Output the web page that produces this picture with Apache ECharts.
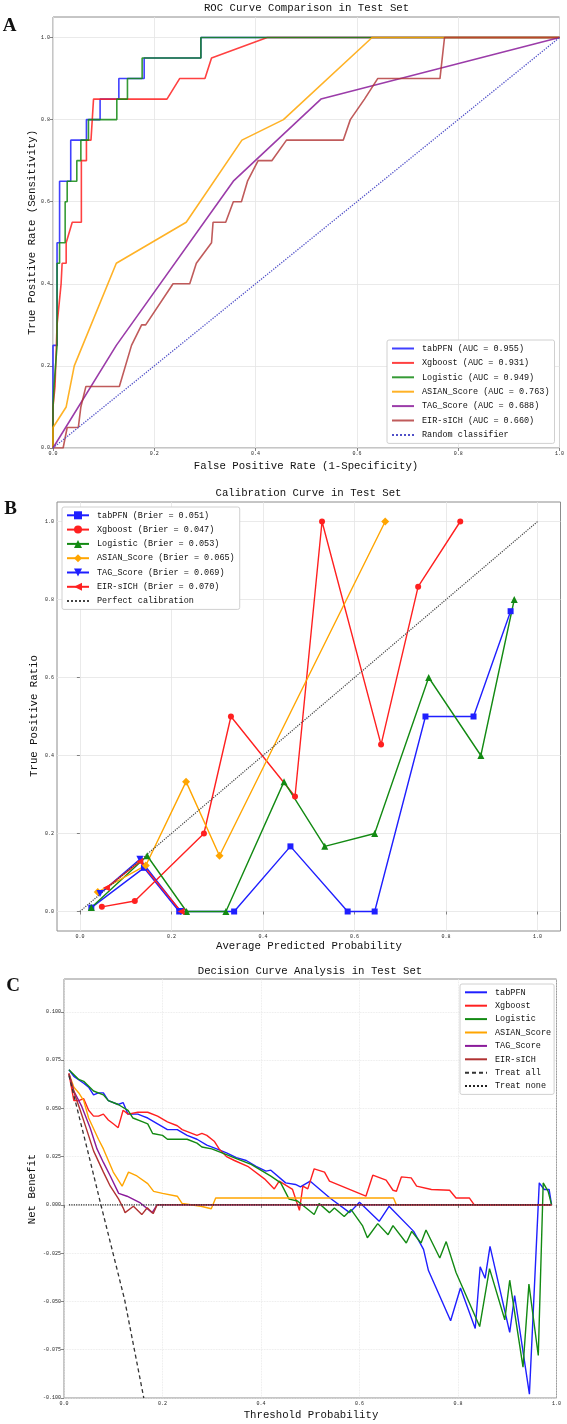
<!DOCTYPE html>
<html>
<head>
<meta charset="utf-8">
<title>Model comparison</title>
<script src="https://cdn.jsdelivr.net/npm/echarts@6.0.0/dist/echarts.min.js"></script>
<style>
  html, body { margin: 0; padding: 0; background: #fff; }
  #chart { width: 567px; height: 1424px; }
</style>
</head>
<body>
<div id="chart"></div>
<script>
// ---------- A: ROC curves (fpr / tpr) ----------
const rocTabpfnX = [0, 0, 0.008, 0.008, 0.013, 0.013, 0.035, 0.035, 0.066, 0.066, 0.093, 0.093, 0.13, 0.13, 0.18, 0.18, 0.292, 0.292, 1];
const rocTabpfnY = [0, 0.25, 0.25, 0.5, 0.5, 0.65, 0.65, 0.75, 0.75, 0.8, 0.8, 0.85, 0.85, 0.9, 0.9, 0.95, 0.95, 1, 1];
const rocXgbX = [0, 0, 0.004, 0.008, 0.016, 0.018, 0.026, 0.026, 0.038, 0.056, 0.056, 0.066, 0.066, 0.075, 0.08, 0.225, 0.25, 0.30, 0.313, 0.423, 1];
const rocXgbY = [0, 0.1, 0.15, 0.3, 0.4, 0.45, 0.45, 0.5, 0.55, 0.55, 0.7, 0.7, 0.75, 0.75, 0.85, 0.85, 0.9, 0.9, 0.95, 1, 1];
const rocLogX = [0, 0, 0.002, 0.008, 0.008, 0.013, 0.013, 0.024, 0.024, 0.028, 0.028, 0.047, 0.047, 0.055, 0.055, 0.07, 0.07, 0.126, 0.126, 0.147, 0.147, 0.176, 0.176, 0.292, 0.292, 1];
const rocLogY = [0, 0.1, 0.15, 0.25, 0.45, 0.45, 0.5, 0.5, 0.6, 0.6, 0.65, 0.65, 0.7, 0.7, 0.75, 0.75, 0.8, 0.8, 0.85, 0.85, 0.9, 0.9, 0.95, 0.95, 1, 1];
const rocAsianX = [0, 0, 0.026, 0.042, 0.125, 0.263, 0.373, 0.455, 0.63, 1];
const rocAsianY = [0, 0.05, 0.1, 0.2, 0.45, 0.55, 0.75, 0.8, 1, 1];
const rocTagX = [0, 0.125, 0.356, 0.529, 1];
const rocTagY = [0, 0.25, 0.65, 0.85, 1];
const rocEirX = [0, 0.02, 0.028, 0.05, 0.055, 0.065, 0.131, 0.155, 0.175, 0.183, 0.237, 0.27, 0.283, 0.313, 0.316, 0.341, 0.356, 0.372, 0.384, 0.405, 0.432, 0.461, 0.573, 0.587, 0.615, 0.641, 0.764, 0.773, 1];
const rocEirY = [0, 0, 0.05, 0.05, 0.1, 0.15, 0.15, 0.25, 0.3, 0.3, 0.4, 0.4, 0.45, 0.5, 0.55, 0.55, 0.6, 0.6, 0.65, 0.7, 0.7, 0.75, 0.75, 0.8, 0.85, 0.9, 0.9, 1, 1];
const rocDiagX = [0, 1];
const rocDiagY = [0, 1];

// ---------- B: calibration (mean predicted / observed) ----------
const calTabpfnX = [0.025, 0.140, 0.217, 0.337, 0.460, 0.585, 0.644, 0.755, 0.860, 0.941];
const calTabpfnY = [0.010, 0.112, 0, 0, 0.167, 0, 0, 0.5, 0.5, 0.77];
const calXgbX = [0.048, 0.120, 0.271, 0.330, 0.470, 0.529, 0.658, 0.739, 0.831];
const calXgbY = [0.012, 0.027, 0.200, 0.500, 0.295, 1.0, 0.428, 0.833, 1.0];
const calLogX = [0.025, 0.147, 0.233, 0.319, 0.446, 0.535, 0.644, 0.762, 0.876, 0.949];
const calLogY = [0.010, 0.143, 0, 0, 0.333, 0.167, 0.200, 0.600, 0.400, 0.800];
const calAsianX = [0.039, 0.144, 0.232, 0.305, 0.667];
const calAsianY = [0.050, 0.118, 0.333, 0.143, 1.0];
const calTagX = [0.044, 0.131, 0.220];
const calTagY = [0.046, 0.134, 0];
const calEirX = [0.058, 0.131, 0.221];
const calEirY = [0.061, 0.128, 0];
const calDiagX = [0, 1];
const calDiagY = [0, 1];

// ---------- C: decision curves (threshold / net benefit) ----------
const dcaTabpfnX = [0.01, 0.02, 0.04, 0.05, 0.06, 0.07, 0.08, 0.09, 0.11, 0.12, 0.13, 0.15, 0.16, 0.17, 0.19, 0.21, 0.23, 0.25, 0.27, 0.29, 0.31, 0.33, 0.35, 0.37, 0.39, 0.41, 0.42, 0.45, 0.47, 0.48, 0.50, 0.54, 0.58, 0.60, 0.64, 0.66, 0.71, 0.73, 0.74, 0.785, 0.805, 0.835, 0.845, 0.855, 0.865, 0.905, 0.915, 0.945, 0.965, 0.975, 0.985, 0.99];
const dcaTabpfnY = [0.070, 0.0666, 0.063, 0.061, 0.057, 0.058, 0.058, 0.054, 0.052, 0.053, 0.047, 0.047, 0.046, 0.045, 0.042, 0.039, 0.039, 0.036, 0.034, 0.031, 0.029, 0.027, 0.0245, 0.023, 0.020, 0.0175, 0.018, 0.0114, 0.0106, 0.0093, 0.0123, 0.0036, -0.004, 0.0014, -0.0085, -0.0007, -0.0137, -0.023, -0.034, -0.060, -0.043, -0.064, -0.032, -0.038, -0.0215, -0.066, -0.047, -0.098, 0.0114, 0.008, 0.008, 0];
const dcaXgbX = [0.01, 0.02, 0.03, 0.04, 0.05, 0.06, 0.07, 0.08, 0.09, 0.10, 0.11, 0.12, 0.13, 0.15, 0.17, 0.19, 0.21, 0.23, 0.24, 0.27, 0.28, 0.29, 0.305, 0.315, 0.33, 0.346, 0.373, 0.407, 0.427, 0.437, 0.464, 0.478, 0.485, 0.495, 0.508, 0.529, 0.539, 0.613, 0.627, 0.654, 0.668, 0.675, 0.685, 0.705, 0.716, 0.746, 0.783, 0.796, 0.823, 0.833, 0.99];
const dcaXgbY = [0.068, 0.054, 0.054, 0.055, 0.049, 0.046, 0.046, 0.047, 0.044, 0.042, 0.040, 0.049, 0.047, 0.048, 0.048, 0.046, 0.043, 0.041, 0.039, 0.036, 0.037, 0.036, 0.033, 0.029, 0.025, 0.023, 0.020, 0.0135, 0.0083, 0.0123, 0.008, -0.0028, 0.0097, 0.0083, 0.0187, 0.017, 0.0123, 0.0045, 0.0154, 0.0128, 0.0076, 0.0071, 0.0145, 0.014, 0.0097, 0.008, 0.0076, 0.0036, 0.0036, 0, 0];
const dcaLogX = [0.01, 0.03, 0.04, 0.06, 0.08, 0.09, 0.11, 0.13, 0.14, 0.16, 0.17, 0.18, 0.20, 0.21, 0.23, 0.25, 0.27, 0.28, 0.30, 0.33, 0.35, 0.38, 0.42, 0.44, 0.457, 0.474, 0.508, 0.518, 0.539, 0.549, 0.569, 0.583, 0.606, 0.616, 0.637, 0.658, 0.668, 0.695, 0.706, 0.725, 0.735, 0.763, 0.776, 0.796, 0.844, 0.864, 0.895, 0.905, 0.932, 0.944, 0.963, 0.973, 0.983, 0.99];
const dcaLogY = [0.070, 0.065, 0.064, 0.059, 0.057, 0.054, 0.052, 0.049, 0.045, 0.043, 0.042, 0.037, 0.036, 0.034, 0.034, 0.034, 0.032, 0.030, 0.029, 0.026, 0.024, 0.021, 0.0149, 0.0114, 0.003, 0.002, -0.005, 0.0007, -0.004, -0.0016, -0.006, -0.0024, -0.0107, -0.017, -0.0097, -0.0154, -0.0107, -0.0197, -0.0137, -0.0197, -0.013, -0.0275, -0.019, -0.035, -0.063, -0.033, -0.0595, -0.039, -0.084, -0.041, -0.078, 0.0114, 0.007, 0];
const dcaAsianX = [0.01, 0.02, 0.03, 0.04, 0.05, 0.07, 0.08, 0.10, 0.118, 0.131, 0.148, 0.17, 0.182, 0.20, 0.23, 0.24, 0.278, 0.299, 0.308, 0.669, 0.675, 0.99];
const dcaAsianY = [0.068, 0.061, 0.058, 0.054, 0.045, 0.034, 0.029, 0.017, 0.0097, 0.017, 0.015, 0.011, 0.007, 0.006, 0.0045, 0.0007, -0.0007, -0.002, 0.0036, 0.0036, 0, 0];
const dcaTagX = [0.01, 0.02, 0.036, 0.053, 0.067, 0.08, 0.094, 0.111, 0.128, 0.155, 0.179, 0.189, 0.99];
const dcaTagY = [0.068, 0.059, 0.051, 0.040, 0.029, 0.022, 0.015, 0.006, 0.0045, 0.001, -0.004, 0, 0];
const dcaEirX = [0.01, 0.022, 0.033, 0.046, 0.06, 0.08, 0.094, 0.111, 0.12, 0.124, 0.141, 0.158, 0.169, 0.181, 0.189, 0.223, 0.99];
const dcaEirY = [0.068, 0.057, 0.049, 0.039, 0.028, 0.017, 0.0097, 0.003, -0.0015, -0.004, -0.0007, -0.005, -0.0015, -0.0045, 0, 0, 0];
const dcaAllX = [0.01, 0.051, 0.075, 0.123, 0.162];
const dcaAllY = [0.067, 0.025, 0, -0.049, -0.1];
const dcaNoneX = [0.01, 0.99];
const dcaNoneY = [0, 0];

// tick labels
const ticksUnit = [0, 0.2, 0.4, 0.6, 0.8, 1.0];
const ticksNb = [-0.1, -0.075, -0.05, -0.025, 0, 0.025, 0.05, 0.075, 0.1];

const mono = '"Liberation Mono", "DejaVu Sans Mono", monospace';
const C_BLUE = '#1f1fff', C_RED = '#ff2020', C_GREEN = '#138a13', C_ORANGE = '#ffa500', C_PURPLE = '#8a1a9a', C_BROWN = '#b03232';

function pairs(xs, ys) {
  return xs.map((x, i) => [x, ys[i]]);
}

function axis(grid, min, max, ticks, digits, dotted) {
  return {
    type: 'value', gridIndex: grid, min: min, max: max,
    axisLine: { show: false },
    axisTick: { show: true, length: 3, customValues: ticks, lineStyle: { color: '#666', width: 0.8 } },
    axisLabel: {
      customValues: ticks, fontSize: 5, color: '#222', margin: 3, fontFamily: mono,
      formatter: v => v.toFixed(digits)
    },
    splitLine: { show: true, lineStyle: { color: '#e4e4e4', width: 0.8, type: dotted ? 'dotted' : 'solid' } }
  };
}

function plain(name, idx, xs, ys, color, width, type, opacity) {
  return {
    name: name, type: 'line', xAxisIndex: idx, yAxisIndex: idx,
    data: pairs(xs, ys), symbol: 'none', showSymbol: false,
    lineStyle: { color: color, width: width, type: type || 'solid', opacity: opacity || 1 },
    itemStyle: { color: color }
  };
}

function marked(name, xs, ys, color, symbol, size, rotate) {
  return {
    name: name, type: 'line', xAxisIndex: 1, yAxisIndex: 1,
    data: pairs(xs, ys), symbol: symbol, symbolSize: size, symbolRotate: rotate || 0,
    showSymbol: true,
    lineStyle: { color: color, width: 1.4 },
    itemStyle: { color: color }
  };
}

// legend entry showing only the line, no marker
function lineOnly(name) {
  return { name: name, itemStyle: { opacity: 0 } };
}

function txt(s, x, y, font, rot) {
  return {
    type: 'text', x: x, y: y, rotation: rot || 0,
    style: { text: s, font: font, fill: '#111', align: 'center', verticalAlign: 'middle' }
  };
}

const titleFont = '10.7px ' + mono;
const letterFont = 'bold 19px "Liberation Serif", serif';

const legendBase = {
  orient: 'vertical', itemWidth: 22, itemHeight: 10, selectedMode: false,
  backgroundColor: '#fff', borderColor: '#d0d0d0', borderWidth: 1, borderRadius: 2,
  textStyle: { fontFamily: mono, fontSize: 8.5, color: '#111', lineHeight: 10, padding: [0, 0, 0, 3] }
};

const chart = echarts.init(document.getElementById('chart'), null, { renderer: 'canvas' });

chart.setOption({
  animation: false,
  backgroundColor: '#fff',
  grid: [
    { left: 53, top: 17, width: 507, height: 431, show: true, borderColor: '#8c8c8c', borderWidth: 1, backgroundColor: 'transparent' },
    { left: 57, top: 502, width: 503.5, height: 429, show: true, borderColor: '#8c8c8c', borderWidth: 1, backgroundColor: 'transparent' },
    { left: 64, top: 979, width: 492.5, height: 419, show: true, borderColor: '#8c8c8c', borderWidth: 1, backgroundColor: 'transparent' }
  ],
  xAxis: [
    axis(0, 0, 1, ticksUnit, 1, false),
    axis(1, -0.05, 1.05, ticksUnit, 1, false),
    axis(2, 0, 1, ticksUnit, 1, true)
  ],
  yAxis: [
    axis(0, 0, 1.05, ticksUnit, 1, false),
    axis(1, -0.05, 1.05, ticksUnit, 1, false),
    axis(2, -0.1, 0.117, ticksNb, 3, true)
  ],
  legend: [
    Object.assign({}, legendBase, {
      left: 387, top: 340, itemGap: 4.4, padding: [3.5, 5, 3.5, 4],
      data: ['tabPFN (AUC = 0.955)', 'Xgboost (AUC = 0.931)', 'Logistic (AUC = 0.949)', 'ASIAN_Score (AUC = 0.763)', 'TAG_Score (AUC = 0.688)', 'EIR-sICH (AUC = 0.660)', 'Random classifier'].map(lineOnly)
    }),
    Object.assign({}, legendBase, {
      left: 62, top: 507, itemGap: 4.3, padding: [3.3, 5, 3.3, 4],
      data: ['tabPFN (Brier = 0.051)', 'Xgboost (Brier = 0.047)', 'Logistic (Brier = 0.053)', 'ASIAN_Score (Brier = 0.065)', 'TAG_Score (Brier = 0.069)', 'EIR-sICH (Brier = 0.070)', lineOnly('Perfect calibration')]
    }),
    Object.assign({}, legendBase, {
      left: 460, top: 984, itemGap: 3.4, padding: [3.3, 3, 3.3, 4],
      data: ['tabPFN', 'Xgboost', 'Logistic', 'ASIAN_Score', 'TAG_Score', 'EIR-sICH', 'Treat all', 'Treat none'].map(lineOnly)
    })
  ],
  graphic: [
    txt('A', 9.5, 26.5, letterFont),
    txt('ROC Curve Comparison in Test Set', 306.5, 8.5, titleFont),
    txt('False Positive Rate (1-Specificity)', 306, 466, titleFont),
    txt('True Positive Rate (Sensitivity)', 32, 232.5, titleFont, Math.PI / 2),
    txt('B', 10.5, 509, letterFont),
    txt('Calibration Curve in Test Set', 308.5, 493, titleFont),
    txt('Average Predicted Probability', 309, 946, titleFont),
    txt('True Positive Ratio', 34, 716, titleFont, Math.PI / 2),
    txt('C', 13, 986, letterFont),
    txt('Decision Curve Analysis in Test Set', 310, 971.5, titleFont),
    txt('Threshold Probability', 311, 1415, titleFont),
    txt('Net Benefit', 32.5, 1189, titleFont, Math.PI / 2)
  ],
  series: [
    // ROC
    plain('tabPFN (AUC = 0.955)', 0, rocTabpfnX, rocTabpfnY, C_BLUE, 1.6, 'solid', 0.85),
    plain('Xgboost (AUC = 0.931)', 0, rocXgbX, rocXgbY, C_RED, 1.6, 'solid', 0.85),
    plain('Logistic (AUC = 0.949)', 0, rocLogX, rocLogY, C_GREEN, 1.6, 'solid', 0.85),
    plain('ASIAN_Score (AUC = 0.763)', 0, rocAsianX, rocAsianY, C_ORANGE, 1.6, 'solid', 0.85),
    plain('TAG_Score (AUC = 0.688)', 0, rocTagX, rocTagY, C_PURPLE, 1.6, 'solid', 0.85),
    plain('EIR-sICH (AUC = 0.660)', 0, rocEirX, rocEirY, C_BROWN, 1.6, 'solid', 0.8),
    plain('Random classifier', 0, rocDiagX, rocDiagY, '#5050c8', 1.3, 'dotted'),
    // calibration
    marked('tabPFN (Brier = 0.051)', calTabpfnX, calTabpfnY, C_BLUE, 'rect', 6),
    marked('Xgboost (Brier = 0.047)', calXgbX, calXgbY, C_RED, 'circle', 6),
    marked('Logistic (Brier = 0.053)', calLogX, calLogY, C_GREEN, 'triangle', 7),
    marked('ASIAN_Score (Brier = 0.065)', calAsianX, calAsianY, C_ORANGE, 'diamond', 8),
    marked('TAG_Score (Brier = 0.069)', calTagX, calTagY, C_BLUE, 'triangle', 7, 180),
    marked('EIR-sICH (Brier = 0.070)', calEirX, calEirY, C_RED, 'triangle', 7, 90),
    plain('Perfect calibration', 1, calDiagX, calDiagY, '#444', 1.2, 'dotted'),
    // decision curves
    plain('tabPFN', 2, dcaTabpfnX, dcaTabpfnY, C_BLUE, 1.4),
    plain('Xgboost', 2, dcaXgbX, dcaXgbY, C_RED, 1.4),
    plain('Logistic', 2, dcaLogX, dcaLogY, C_GREEN, 1.4),
    plain('ASIAN_Score', 2, dcaAsianX, dcaAsianY, C_ORANGE, 1.4),
    plain('TAG_Score', 2, dcaTagX, dcaTagY, C_PURPLE, 1.4),
    plain('EIR-sICH', 2, dcaEirX, dcaEirY, C_BROWN, 1.4),
    plain('Treat all', 2, dcaAllX, dcaAllY, '#333', 1.3, [4, 3]),
    plain('Treat none', 2, dcaNoneX, dcaNoneY, '#222', 1.2, 'dotted')
  ]
});
</script>
</body>
</html>
